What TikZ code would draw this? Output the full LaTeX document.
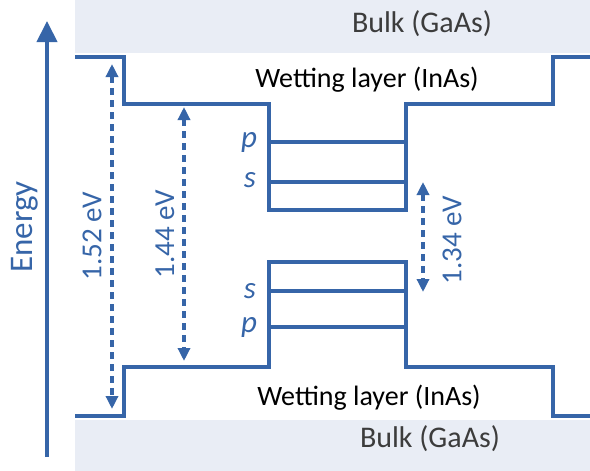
\documentclass[tikz,border=0pt]{standalone}
\usepackage{fontspec}
\setmainfont{Carlito}
\usetikzlibrary{arrows.meta}
\definecolor{band}{RGB}{54,101,168}
\definecolor{bulkfill}{RGB}{233,237,245}
\definecolor{bulktext}{RGB}{60,60,60}
\begin{document}
\begin{tikzpicture}[x=1pt,y=-1pt,
  bandline/.style={draw=band, line width=3.5pt, line join=miter},
  gaparrow/.style={draw=band, line width=3.5pt, dash pattern=on 7pt off 5pt,
    {Triangle[width=12pt,length=13pt]}-{Triangle[width=12pt,length=13pt]}},
  gaplabel/.style={text=band, rotate=90, font=\fontsize{29}{32}\selectfont, inner sep=0pt},
  wlabel/.style={text=black, font=\fontsize{28}{32}\selectfont, inner sep=0pt},
  blabel/.style={text=bulktext, font=\fontsize{30}{34}\selectfont, inner sep=0pt},
  orb/.style={text=band, font=\fontsize{31}{34}\selectfont\itshape, inner sep=0pt}]
\useasboundingbox (0,0) rectangle (590,471);
% bulk regions
\fill[bulkfill] (75,0) rectangle (590,53);
\fill[bulkfill] (75,420) rectangle (590,471);
% conduction band
\draw[bandline] (75,57) -| (124,104) -| (269,210) -| (406,104) -| (553,57) -- (590,57);
\draw[bandline] (269,142) -- (406,142);
\draw[bandline] (269,182) -- (406,182);
% valence band
\draw[bandline] (75,416) -| (124,367) -| (269,262) -| (406,367) -| (553,416) -- (590,416);
\draw[bandline] (269,291) -- (406,291);
\draw[bandline] (269,327) -- (406,327);
% energy axis
\coordinate (e0) at (47,457);
\coordinate (e1) at (47,21);
\draw[draw=band, line width=4pt, -{Triangle[width=20pt,length=21pt]}] (e0) -- (e1);
\node[text=band, rotate=90, font=\fontsize{33}{36}\selectfont, inner sep=0pt] (energy) at (25,227) {Energy};
% gap arrows
\coordinate (a1t) at (112,64);
\coordinate (a1b) at (112,409);
\coordinate (a2t) at (184,107);
\coordinate (a2b) at (184,361);
\coordinate (a3t) at (423,182);
\coordinate (a3b) at (423,292);
\draw[gaparrow] (a1t) -- (a1b);
\draw[gaparrow] (a2t) -- (a2b);
\draw[gaparrow] (a3t) -- (a3b);
\node[gaplabel] (l1) at (92,236) {1.52 eV};
\node[gaplabel] (l2) at (165,234) {1.44 eV};
\node[gaplabel] (l3) at (452,240) {1.34 eV};
% orbital labels
\node[orb] (pc) at (249,142) {p};
\node[orb] (sc) at (250,180) {s};
\node[orb] (sv) at (250,291) {s};
\node[orb] (pv) at (249,327) {p};
% region labels
\node[wlabel] (wt) at (367,80) {Wetting layer (InAs)};
\node[wlabel] (wb) at (369,398) {Wetting layer (InAs)};
\node[blabel] (bt) at (422,24) {Bulk (GaAs)};
\node[blabel] (bb) at (430,439) {Bulk (GaAs)};
\end{tikzpicture}
\end{document}
